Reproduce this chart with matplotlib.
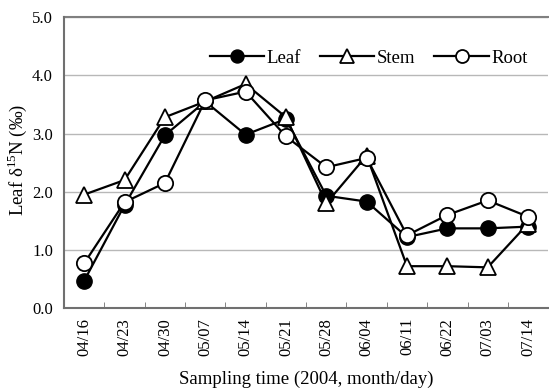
import numpy as np
import matplotlib
matplotlib.use("Agg")
from matplotlib import pyplot as plt

# sampling dates (2004, month/day)
dates = ['04/16', '04/23', '04/30', '05/07', '05/14', '05/21',
         '05/28', '06/04', '06/11', '06/22', '07/03', '07/14']

# delta 15N values
leaf = [0.47, 1.77, 2.97, 3.55, 2.98, 3.25, 1.93, 1.83, 1.22, 1.37, 1.37, 1.40]
stem = [1.95, 2.20, 3.28, 3.55, 3.85, 3.28, 1.80, 2.62, 0.72, 0.72, 0.70, 1.45]
root = [0.77, 1.82, 2.15, 3.57, 3.72, 2.95, 2.42, 2.58, 1.25, 1.60, 1.85, 1.57]

yticks = [0.0, 1.0, 2.0, 3.0, 4.0, 5.0]

plt.rcParams['font.family'] = ['Liberation Serif', 'DejaVu Serif']
plt.rcParams['mathtext.fontset'] = 'custom'
plt.rcParams['mathtext.rm'] = 'Liberation Serif'

fig = plt.figure(figsize=(5.49, 3.89), dpi=100)
ax = fig.add_axes([0.1166, 0.208, 0.882, 0.748])

x = np.arange(len(dates))
lw = 1.6
ax.plot(x, leaf, '-o', color='black', lw=lw, ms=11, mfc='black',
        mec='black', label='Leaf', zorder=3)
ax.plot(x, stem, '-^', color='black', lw=lw, ms=12, mfc='white',
        mec='black', mew=1.3, label='Stem', zorder=4)
ax.plot(x, root, '-o', color='black', lw=lw, ms=11, mfc='white',
        mec='black', mew=1.3, label='Root', zorder=5)

ax.set_xlim(-0.5, len(dates) - 0.5)
ax.set_ylim(0, 5)
ax.set_yticks(yticks)
ax.set_yticklabels(['%.1f' % v for v in yticks], fontsize=12)
ax.yaxis.grid(True, color='#b8b8b8', lw=1)
ax.set_axisbelow(True)
ax.axhline(5.0, color='#808080', lw=1.5, zorder=1, clip_on=False)

# labels sit at the points, tick marks sit between them
ax.set_xticks(x)
ax.set_xticklabels(dates, rotation=90, fontsize=12)
ax.set_xticks(np.arange(len(dates) - 1) + 0.5, minor=True)
ax.tick_params(axis='x', which='major', length=0, pad=7)
ax.tick_params(axis='x', which='minor', direction='in', length=4,
               color='#707070')
ax.tick_params(axis='y', length=0, pad=8)

for s in ['top', 'right']:
    ax.spines[s].set_visible(False)
for s in ['left', 'bottom']:
    ax.spines[s].set_color('#707070')
    ax.spines[s].set_linewidth(1.5)

ax.set_xlabel('Sampling time (2004, month/day)', fontsize=13.5, labelpad=11)
ax.set_ylabel('Leaf δ$^{15}$N (‰)', fontsize=13.5)
ax.yaxis.set_label_coords(-0.072, 0.509)

leg = ax.legend(loc='center right', bbox_to_anchor=(0.993, 0.858), ncol=3,
                frameon=False, fontsize=13.5, handlelength=2.9,
                handletextpad=0.15, columnspacing=1.0, markerscale=0.85)

fig.savefig('out.png', dpi=100)
